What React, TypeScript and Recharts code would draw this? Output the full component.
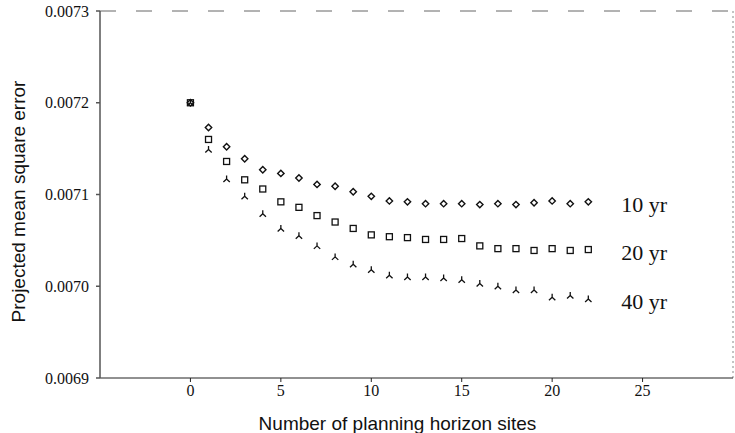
import React from 'react';
import { ScatterChart, Scatter, XAxis, YAxis, Label, ReferenceLine } from 'recharts';

// number of planning horizon sites (x positions of the points)
const sites = [0, 1, 2, 3, 4, 5, 6, 7, 8, 9, 10, 11, 12, 13, 14, 15, 16, 17, 18, 19, 20, 21, 22];

// projected mean square error
const mse10yr = [
  0.0072, 0.007173, 0.007152, 0.007139, 0.007127, 0.007123, 0.007118, 0.007111, 0.007109, 0.007103,
  0.007098, 0.007093, 0.007092, 0.00709, 0.00709, 0.00709, 0.007089, 0.00709, 0.007089, 0.007091,
  0.007093, 0.00709, 0.007092,
];
const mse20yr = [
  0.0072, 0.00716, 0.007136, 0.007116, 0.007106, 0.007092, 0.007086, 0.007077, 0.00707, 0.007063,
  0.007056, 0.007054, 0.007053, 0.007051, 0.007051, 0.007052, 0.007044, 0.007041, 0.007041, 0.007039,
  0.007041, 0.007039, 0.00704,
];
const mse40yr = [
  0.0072, 0.007149, 0.007117, 0.007098, 0.007079, 0.007063, 0.007055, 0.007044, 0.007032, 0.007024,
  0.007018, 0.007012, 0.00701, 0.00701, 0.007009, 0.007007, 0.007003, 0.007, 0.006996, 0.006996,
  0.006988, 0.00699, 0.006986,
];

const seriesNames = ['10 yr', '20 yr', '40 yr'];
const xTicks = [0, 5, 10, 15, 20, 25];
const yTicks = [0.0069, 0.007, 0.0071, 0.0072, 0.0073];

const toPoints = (vals: number[]) => sites.map((s, i) => ({ x: s, y: vals[i] }));

const lastSite = sites[sites.length - 1];
const ink = '#111';
const serif = "'Liberation Serif', 'DejaVu Serif', serif";
const sans = "'Liberation Sans', Arial, sans-serif";

// marker drawer; the last point also carries the series name to its right
const makeShape = (kind: 'diamond' | 'square' | 'tri', name: string) => (props: any) => {
  const { cx, cy, payload } = props;
  let mark;
  if (kind === 'diamond') {
    mark = (
      <path
        d={`M${cx},${cy - 3.2} L${cx + 3.2},${cy} L${cx},${cy + 3.2} L${cx - 3.2},${cy} Z`}
        fill="none"
        stroke={ink}
        strokeWidth={1.4}
      />
    );
  } else if (kind === 'square') {
    mark = <rect x={cx - 3} y={cy - 3} width={6} height={6} fill="none" stroke={ink} strokeWidth={1.3} />;
  } else {
    mark = (
      <path
        d={`M${cx},${cy - 3.5} L${cx},${cy} M${cx},${cy} L${cx - 3.2},${cy + 3} M${cx},${cy} L${cx + 3.2},${cy + 3}`}
        fill="none"
        stroke={ink}
        strokeWidth={1.3}
      />
    );
  }
  return (
    <g>
      {mark}
      {payload && payload.x === lastSite && (
        <text x={cx + 33} y={cy + 10} fontFamily={serif} fontSize={22} fill={ink}>
          {name}
        </text>
      )}
    </g>
  );
};

export default function App() {
  return (
    <div style={{ position: 'absolute', left: 0, top: 0, width: 735, height: 433, background: '#fff' }}>
      <ScatterChart width={735} height={433} margin={{ top: 11, right: 2, bottom: 25, left: 0 }}>
        <XAxis
          type="number"
          dataKey="x"
          domain={[-5, 30]}
          ticks={xTicks}
          allowDataOverflow
          height={30}
          tickSize={4}
          tickMargin={3}
          stroke="#222"
          tick={{ fontFamily: serif, fontSize: 16, fill: ink }}
        >
          <Label
            value="Number of planning horizon sites"
            position="bottom"
            offset={9}
            dx={-19}
            style={{ fontFamily: sans, fontSize: 19, fill: ink }}
          />
        </XAxis>
        <YAxis
          type="number"
          dataKey="y"
          domain={[0.0069, 0.0073]}
          ticks={yTicks}
          allowDataOverflow
          width={100}
          tickSize={4}
          tickMargin={7}
          stroke="#555"
          strokeWidth={1.5}
          tickFormatter={(v: number) => v.toFixed(4)}
          tick={{ fontFamily: serif, fontSize: 16, fill: ink }}
        >
          <Label
            value="Projected mean square error"
            angle={-90}
            position="insideLeft"
            offset={18}
            dy={7}
            style={{ fontFamily: sans, fontSize: 19, fill: ink, textAnchor: 'middle' }}
          />
        </YAxis>
        <ReferenceLine y={0.0073} stroke="#666" strokeDasharray="16 20" strokeWidth={1} />
        <ReferenceLine x={30} stroke="#888" strokeDasharray="2 3" strokeWidth={1} />
        <Scatter data={toPoints(mse10yr)} shape={makeShape('diamond', seriesNames[0])} isAnimationActive={false} />
        <Scatter data={toPoints(mse20yr)} shape={makeShape('square', seriesNames[1])} isAnimationActive={false} />
        <Scatter data={toPoints(mse40yr)} shape={makeShape('tri', seriesNames[2])} isAnimationActive={false} />
      </ScatterChart>
    </div>
  );
}
